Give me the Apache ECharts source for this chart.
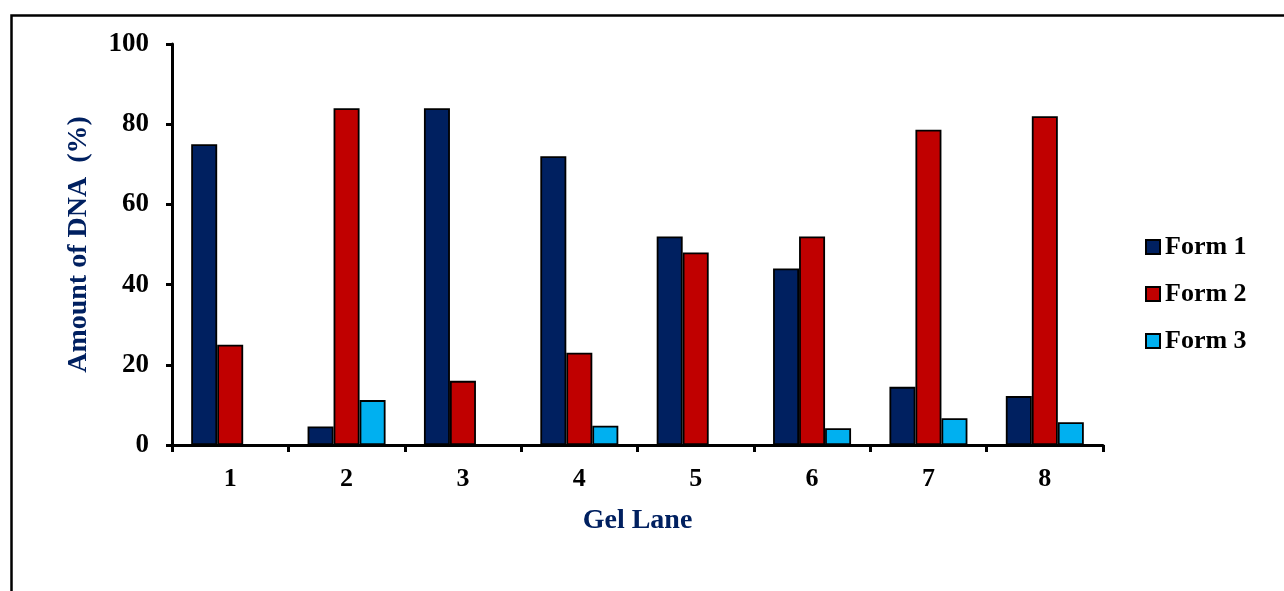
<!DOCTYPE html>
<html>
<head>
<meta charset="utf-8">
<script src="https://cdn.jsdelivr.net/npm/echarts@6/dist/echarts.min.js"></script>
<style>
html,body{margin:0;padding:0;background:#fff;}
#chart{width:1284px;height:591px;}
</style>
</head>
<body>
<div id="chart"></div>
<script>
const categories = ['1','2','3','4','5','6','7','8'];
const form1 = [75, 4.6, 84, 72, 52, 44, 14.5, 12.2];
const form2 = [25, 84, 16, 23, 48, 52, 78.6, 82];
const form3 = [0, 11.2, 0, 4.8, 0, 4.2, 6.7, 5.7];
const seriesNames = ['Form 1', 'Form 2', 'Form 3'];
const colors = ['#002060', '#C00000', '#00B0F0'];

const font = '"Liberation Serif", "Times New Roman", serif';
const chart = echarts.init(document.getElementById('chart'), null, {renderer: 'canvas'});
const barStyle = (c) => ({color: c, borderColor: '#000', borderWidth: 1.8});
chart.setOption({
  animation: false,
  backgroundColor: '#fff',
  graphic: [{
    type: 'rect', left: 9, top: 13, z: 100,
    shape: {width: 1290, height: 600},
    style: {fill: 'none', stroke: '#000', lineWidth: 2.5}
  }],
  grid: {left: 172, right: 181, top: 44, bottom: 146, containLabel: false},
  legend: {
    orient: 'vertical', left: 1140, top: 229, itemGap: 21,
    itemWidth: 14, itemHeight: 14, icon: 'rect',
    textStyle: {fontFamily: font, fontWeight: 'bold', fontSize: 26, color: '#000', padding: [0,0,0,0]},
    data: seriesNames
  },
  xAxis: {
    type: 'category', data: categories,
    name: 'Gel Lane', nameLocation: 'middle', nameGap: 62,
    nameTextStyle: {fontFamily: font, fontWeight: 'bold', fontSize: 28, color: '#002060'},
    axisLine: {lineStyle: {color: '#000', width: 3}},
    axisTick: {show: true, length: 7, lineStyle: {width: 3, color: '#000'}},
    axisLabel: {fontFamily: font, fontWeight: 'bold', fontSize: 26, color: '#000', margin: 21}
  },
  yAxis: {
    type: 'value', min: 0, max: 100, interval: 20,
    name: 'Amount of DNA  (%)', nameLocation: 'middle', nameGap: 79,
    nameTextStyle: {fontFamily: font, fontWeight: 'bold', fontSize: 28, color: '#002060'},
    splitLine: {show: false},
    axisLine: {show: true, lineStyle: {color: '#000', width: 3}},
    axisTick: {show: true, length: 6, lineStyle: {width: 3, color: '#000'}},
    axisLabel: {fontFamily: font, fontWeight: 'bold', fontSize: 27, color: '#000', margin: 23}
  },
  series: [
    {name: seriesNames[0], type: 'bar', data: form1, barWidth: 26, barGap: '0%', itemStyle: barStyle(colors[0])},
    {name: seriesNames[1], type: 'bar', data: form2, barWidth: 26, barGap: '0%', itemStyle: barStyle(colors[1])},
    {name: seriesNames[2], type: 'bar', data: form3, barWidth: 26, barGap: '0%', itemStyle: barStyle(colors[2])}
  ]
});
</script>
</body>
</html>
